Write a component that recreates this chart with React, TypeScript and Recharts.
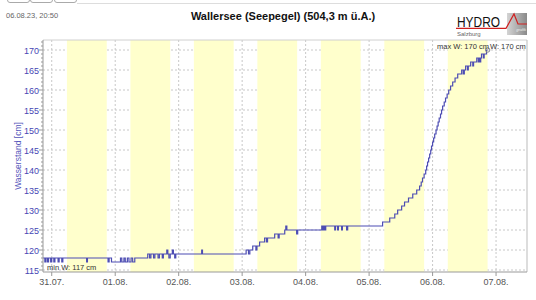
import { CartesianGrid, Line, LineChart, ReferenceArea, ReferenceDot, ReferenceLine, XAxis, YAxis } from 'recharts';

// hours counted from 31.07. 00:00, level in cm
const lowWater: [number, number][] = [
  [-3.3, 118], [-2.6, 117], [-2.2, 118], [-1.6, 117], [-1.2, 118], [-0.4, 117], [0.0, 118],
  [0.8, 117], [1.2, 118], [2.4, 117], [2.8, 118], [3.8, 117], [4.2, 118],
  [13.2, 117], [13.5, 118],
  [21.3, 117], [21.7, 118], [22.6, 117], [26.0, 118], [26.5, 117], [27.3, 118], [27.8, 117],
  [28.6, 118], [29.2, 117], [30.0, 118], [30.6, 117], [31.4, 118],
  [36.3, 119], [37.0, 118], [37.5, 119], [38.5, 118], [39.0, 119], [40.2, 118], [40.7, 119],
  [41.8, 118], [42.2, 119],
  [43.5, 120], [43.9, 119], [44.3, 118], [44.8, 119], [45.6, 120], [46.0, 119], [46.5, 118], [46.9, 119],
  [56.7, 120], [57.0, 119],
];

const stepUp: [number, number][] = [
  [73.5, 120], [74.4, 119], [74.9, 120], [76.0, 121], [77.2, 120], [77.6, 121], [78.6, 122],
  [80.5, 123], [81.2, 122], [81.6, 123], [84.3, 124], [85.6, 123], [86.0, 124],
  [88.1, 125], [88.5, 126], [88.9, 125], [92.6, 124], [93.0, 125],
  [102.1, 126], [102.4, 125], [102.8, 126], [103.2, 125], [103.6, 126],
  [107.0, 125], [107.3, 126], [108.1, 125], [108.4, 126], [109.6, 125], [109.9, 126],
  [111.5, 125], [111.9, 126],
];

const flood: [number, number][] = [
  [125.1, 127], [127.8, 128], [129.7, 129], [130.8, 130], [132.3, 131], [133.4, 132],
  [134.9, 133], [136.5, 134], [138.0, 135], [139.1, 136], [139.7, 137], [140.2, 138],
  [140.8, 139], [141.4, 140], [141.75, 141], [142.1, 142], [142.5, 143], [142.9, 144],
  [143.3, 145], [143.6, 146], [144.0, 147], [144.4, 148], [144.8, 149], [145.3, 150],
  [145.7, 151], [146.1, 152], [146.5, 153], [147.0, 154], [147.4, 155], [147.8, 156],
  [148.4, 157], [148.9, 158], [149.5, 159], [150.1, 160], [150.8, 161], [151.6, 162],
  [152.5, 163], [153.5, 164],
  [155.0, 165], [155.6, 164], [156.0, 165], [156.5, 166], [157.2, 165], [157.5, 166],
  [158.4, 167], [159.2, 166], [159.5, 167], [160.7, 168], [161.3, 167], [161.6, 168],
  [162.0, 167], [162.2, 168], [162.5, 169], [163.2, 168], [163.5, 169], [164.4, 170], [164.83, 170],
];

const daylight: [number, number][] = [
  [5.75, 20.8], [29.75, 44.8], [53.75, 68.8], [77.75, 92.8],
  [101.75, 116.8], [125.75, 140.8], [149.75, 164.8],
];

const dayTicks = [0, 24, 48, 72, 96, 120, 144, 168];
const dayLabels = ['31.07.', '01.08.', '02.08.', '03.08.', '04.08.', '05.08.', '06.08.', '07.08.'];
const halfDays = [0, 12, 24, 36, 48, 60, 72, 84, 96, 108, 120, 132, 144, 156, 168];
const levelLines = [115, 120, 125, 130, 135, 140, 145, 150, 155, 160, 165, 170];
const levelTicks = Array.from({ length: 58 }, (_, i) => 115 + i);

const data = [...lowWater, ...stepUp, ...flood].map(([h, cm]) => ({ h, cm }));
const last = data[data.length - 1];

const font = '"Liberation Sans", Arial, sans-serif';

const LevelTick = (props: any) => {
  const { x, y, payload } = props;
  const major = payload.value % 5 === 0;
  return (
    <g>
      <line x1={x - (major ? 4 : 2)} x2={x} y1={y} y2={y} stroke="#999" />
      {major && (
        <text x={x - 4} y={y} dy={3.5} textAnchor="end" fill="#4646b4" fontSize={9} fontFamily={font}>
          {payload.value}
        </text>
      )}
    </g>
  );
};

export default function App() {
  return (
    <div style={{ position: 'absolute', left: 0, top: 0, width: 536, height: 300, background: '#fff', fontFamily: font }}>
      {[7, 30, 54].map((l) => (
        <div key={l} style={{ position: 'absolute', left: l, top: -10, width: 21, height: 11, border: '1px solid #aaa', borderRadius: 3 }} />
      ))}
      <div style={{ position: 'absolute', left: 77, right: 0, top: 3, height: 1, background: '#ddd' }} />
      <div style={{ position: 'absolute', left: 6, top: 11, fontSize: 7.5, color: '#666' }}>06.08.23, 20:50</div>
      <div style={{ position: 'absolute', left: 0, width: 566, top: 10, textAlign: 'center', fontSize: 11, fontWeight: 'bold', color: '#111' }}>
        Wallersee (Seepegel) (504,3 m ü.A.)
      </div>

      <LineChart width={536} height={300} data={data} margin={{ top: 40, right: 9, bottom: 0, left: 0 }}>
        {daylight.map(([a, b]) => (
          <ReferenceArea key={a} x1={a} x2={b} fill="#ffffcc" fillOpacity={1} strokeOpacity={0} />
        ))}
        <CartesianGrid
          horizontalValues={levelLines}
          verticalValues={halfDays}
          stroke="#c8c8c8"
          strokeDasharray="2 2"
        />
        <ReferenceLine y={172.5} stroke="#d0d0d0" />
        <ReferenceLine x={179.7} stroke="#bbb" />
        <XAxis
          type="number"
          dataKey="h"
          domain={[-3.3, 179.7]}
          allowDataOverflow
          ticks={dayTicks}
          tickFormatter={(v: number) => dayLabels[Math.round(v / 24)]}
          height={28}
          tickSize={4}
          tickMargin={3}
          stroke="#999"
          tick={{ fill: '#555', fontSize: 9, fontFamily: font }}
        />
        <YAxis
          type="number"
          domain={[114.5, 172.5]}
          allowDataOverflow
          ticks={levelTicks}
          interval={0}
          width={43}
          tickSize={0}
          tickMargin={0}
          tickLine={false}
          stroke="#999"
          tick={<LevelTick />}
          label={{
            value: 'Wasserstand [cm]',
            angle: -90,
            position: 'center',
            dx: -4,
            style: { fill: '#5555bb', fontSize: 8.5, fontFamily: font, textAnchor: 'middle' },
          }}
        />
        <Line
          type="stepAfter"
          dataKey="cm"
          stroke="#4d4db3"
          strokeWidth={1.2}
          dot={false}
          isAnimationActive={false}
        />
        <ReferenceDot x={last.h} y={last.cm} r={2.2} fill="none" stroke="#888" />
      </LineChart>

      <div style={{ position: 'absolute', left: 437, top: 42, fontSize: 7.5, color: '#333' }}>max W: 170 cm</div>
      <div style={{ position: 'absolute', left: 490, top: 42, fontSize: 7.5, color: '#333' }}>W: 170 cm</div>
      <div style={{ position: 'absolute', left: 47, top: 263, fontSize: 7.5, color: '#333' }}>min W: 117 cm</div>

      <svg style={{ position: 'absolute', left: 440, top: 8 }} width={96} height={32}>
        <defs>
          <linearGradient id="logoBox" x1="0" x2="1" y1="0" y2="0">
            <stop offset="0" stopColor="#d4d4d4" />
            <stop offset="1" stopColor="#8a8a8a" />
          </linearGradient>
        </defs>
        <rect x={67} y={5} width={20} height={22} fill="url(#logoBox)" />
        <text x={17} y={19} fontSize={15} fill="#111" fontFamily={font} textLength={43} lengthAdjust="spacingAndGlyphs">
          HYDRO
        </text>
        <polyline points="16,20.3 66,20.3 74,6 78,16 87,16" fill="none" stroke="#d02020" strokeWidth={1.2} />
        <text x={17} y={28} fontSize={6} fill="#666" fontFamily={font}>Salzburg</text>
        <text x={86} y={23} fontSize={4} fill="#eee" fontFamily={font} fontStyle="italic" textAnchor="end">grafik</text>
      </svg>
    </div>
  );
}
